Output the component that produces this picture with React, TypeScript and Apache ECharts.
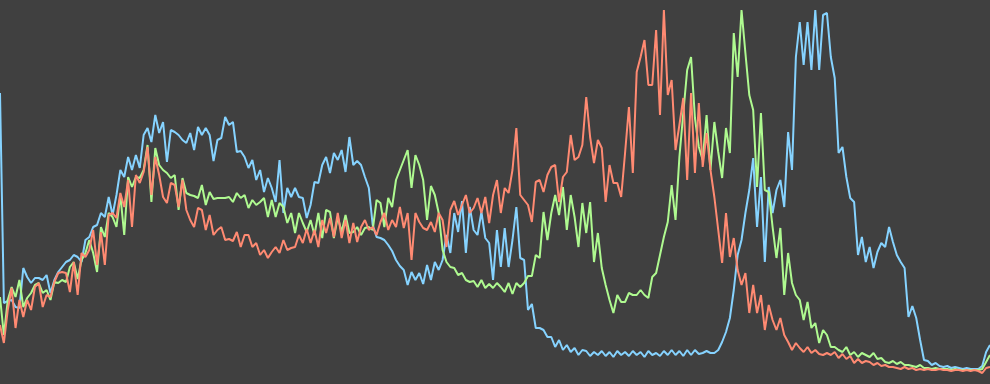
import React, { useEffect, useRef } from "react";
import * as echarts from "echarts";

const POINT_COUNT = 256;
const categories: number[] = Array.from({ length: POINT_COUNT }, (_, i) => i + 1);

const blueSeries: number[] = [
  291, 81, 83, 84, 77, 76, 116, 107, 101, 106,
  106, 104, 109, 91, 104, 112, 117, 122, 124, 129,
  127, 122, 144, 147, 157, 159, 171, 167, 187, 169,
  189, 214, 207, 227, 214, 229, 216, 249, 256, 242,
  269, 251, 262, 222, 254, 252, 249, 244, 241, 251,
  234, 257, 249, 256, 249, 223, 244, 246, 267, 259,
  262, 232, 233, 227, 216, 224, 204, 214, 192, 206,
  196, 182, 224, 171, 196, 187, 196, 187, 186, 166,
  179, 202, 201, 219, 227, 211, 231, 224, 234, 212,
  247, 219, 223, 219, 207, 196, 159, 147, 146, 144,
  139, 133, 124, 118, 114, 99, 112, 104, 111, 100,
  119, 104, 122, 114, 124, 149, 131, 171, 152, 183,
  131, 177, 154, 149, 172, 146, 141, 104, 154, 117,
  156, 117, 144, 177, 126, 124, 74, 80, 56, 56,
  54, 47, 47, 37, 44, 34, 39, 32, 36, 29,
  34, 33, 28, 32, 29, 33, 28, 32, 27, 33,
  29, 32, 28, 33, 29, 32, 27, 33, 29, 31,
  28, 33, 29, 34, 29, 33, 28, 34, 29, 34,
  30, 31, 33, 31, 31, 34, 42, 52, 66, 94,
  129, 144, 171, 194, 226, 157, 207, 122, 197, 171,
  194, 204, 177, 252, 214, 327, 362, 319, 362, 314,
  374, 314, 369, 371, 327, 306, 231, 237, 207, 186,
  182, 129, 147, 122, 137, 116, 132, 141, 137, 157,
  142, 129, 122, 116, 67, 78, 66, 44, 24, 23,
  19, 21, 18, 17, 18, 16, 17, 16, 15, 16,
  15, 15, 15, 18, 32, 39,
];

const greenSeries: number[] = [
  87, 49, 84, 97, 87, 104, 77, 86, 91, 99,
  101, 91, 94, 84, 102, 101, 104, 102, 117, 122,
  105, 124, 131, 144, 131, 112, 157, 147, 171, 167,
  157, 189, 149, 207, 197, 207, 206, 214, 239, 182,
  236, 219, 214, 211, 206, 209, 174, 206, 191, 189,
  188, 186, 199, 179, 192, 185, 186, 186, 186, 187,
  182, 191, 186, 189, 176, 184, 179, 182, 186, 167,
  184, 167, 181, 177, 161, 171, 151, 171, 161, 152,
  164, 149, 171, 146, 174, 172, 146, 167, 152, 169,
  151, 152, 157, 149, 156, 157, 154, 184, 181, 157,
  186, 177, 204, 214, 224, 234, 196, 229, 219, 204,
  164, 198, 189, 171, 134, 122, 117, 116, 109, 111,
  104, 102, 103, 97, 104, 96, 100, 96, 101, 97,
  92, 101, 90, 101, 97, 101, 108, 108, 129, 126,
  172, 144, 171, 189, 169, 197, 154, 189, 167, 137,
  181, 151, 182, 122, 151, 116, 99, 84, 71, 89,
  82, 82, 91, 89, 89, 94, 89, 86, 107, 111,
  129, 147, 162, 199, 164, 227, 271, 314, 327, 266,
  237, 224, 269, 214, 262, 232, 206, 256, 231, 351,
  307, 374, 331, 289, 274, 197, 271, 194, 192, 157,
  126, 156, 89, 131, 101, 89, 84, 64, 82, 56,
  61, 41, 54, 49, 37, 37, 34, 32, 37, 29,
  32, 27, 31, 29, 27, 31, 25, 26, 22, 21,
  23, 20, 22, 19, 19, 18, 17, 19, 16, 16,
  15, 16, 15, 15, 15, 14, 15, 14, 14, 14,
  14, 14, 14, 15, 22, 29,
];

const redSeries: number[] = [
  59, 41, 74, 96, 56, 84, 67, 84, 74, 97,
  101, 77, 89, 87, 102, 111, 112, 111, 92, 122,
  89, 131, 127, 134, 154, 119, 152, 119, 169, 171,
  166, 191, 177, 204, 157, 209, 201, 212, 237, 189,
  227, 209, 187, 181, 201, 199, 177, 204, 174, 164,
  157, 176, 174, 154, 169, 149, 154, 157, 144, 145,
  143, 152, 137, 149, 149, 137, 141, 129, 134, 126,
  132, 137, 131, 144, 134, 136, 137, 149, 141, 155,
  141, 154, 137, 164, 151, 166, 147, 171, 146, 164,
  141, 161, 142, 157, 164, 154, 157, 149, 162, 171,
  154, 164, 157, 177, 156, 171, 124, 171, 162, 156,
  154, 162, 152, 171, 164, 137, 174, 183, 169, 179,
  189, 171, 176, 186, 171, 187, 161, 189, 204, 171,
  196, 191, 214, 256, 189, 184, 179, 162, 202, 204,
  192, 209, 217, 219, 182, 207, 212, 249, 224, 227,
  239, 287, 247, 221, 244, 236, 182, 219, 201, 201,
  187, 231, 277, 211, 312, 327, 344, 299, 299, 354,
  269, 374, 289, 304, 234, 259, 286, 204, 291, 211,
  281, 217, 251, 214, 187, 154, 121, 171, 127, 146,
  114, 99, 111, 71, 99, 71, 89, 54, 79, 64,
  54, 66, 49, 42, 34, 41, 36, 32, 37, 31,
  34, 30, 29, 31, 29, 32, 26, 30, 25, 28,
  21, 25, 21, 23, 22, 19, 21, 18, 19, 17,
  17, 16, 15, 17, 15, 16, 14, 15, 14, 15,
  14, 14, 15, 14, 14, 13, 14, 14, 13, 14,
  13, 14, 13, 11, 16, 17,
];

const seriesNames = ["Blue", "Green", "Red"];
const seriesColors = ["#86d3ff", "#affa90", "#ff8a72"];

export default function App() {
  const ref = useRef<HTMLDivElement>(null);

  useEffect(() => {
    document.body.style.margin = "0";
    document.body.style.background = "#404040";
    if (!ref.current) return;
    const chart = echarts.init(ref.current, undefined, { renderer: "svg" });
    const dataSets = [blueSeries, greenSeries, redSeries];
    chart.setOption({
      animation: false,
      backgroundColor: "#404040",
      grid: { left: 0, right: 0, top: 0, bottom: 0 },
      xAxis: {
        type: "category",
        data: categories,
        boundaryGap: false,
        show: false,
      },
      yAxis: {
        type: "value",
        min: 0,
        max: 384,
        show: false,
        splitLine: { show: false },
      },
      series: dataSets.map((d, k) => ({
        name: seriesNames[k],
        type: "line",
        data: d,
        showSymbol: false,
        symbol: "none",
        lineStyle: { color: seriesColors[k], width: 2, opacity: 1 },
        itemStyle: { color: seriesColors[k] },
      })),
    });
    return () => chart.dispose();
  }, []);

  return <div ref={ref} style={{ width: 990, height: 384 }} />;
}
